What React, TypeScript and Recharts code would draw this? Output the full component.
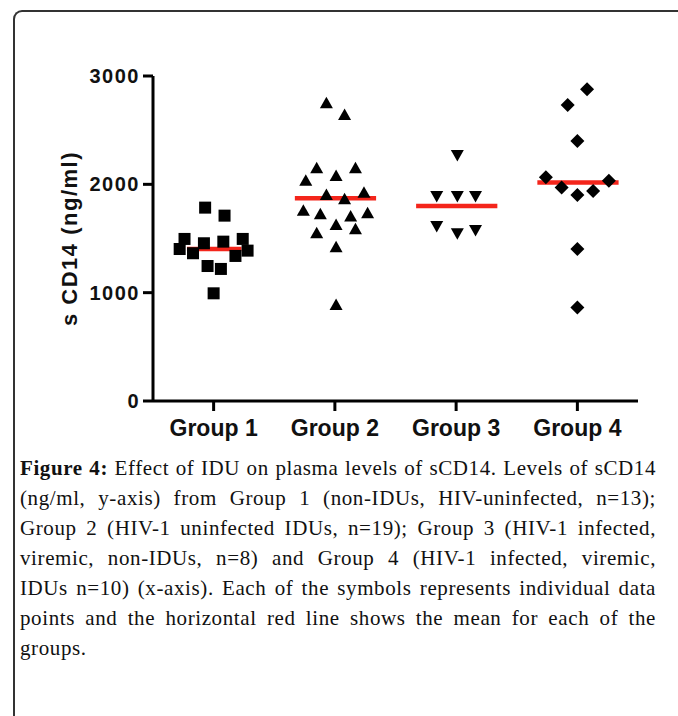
import React from 'react';
import { ScatterChart, Scatter, XAxis, YAxis, ReferenceLine, Label } from 'recharts';

const categories = ['Group 1', 'Group 2', 'Group 3', 'Group 4'];
const categoryTicks = [0.5, 1.5, 2.5, 3.5];
const yTicks = [0, 1000, 2000, 3000];

// x = position along the category axis (group index + jitter), y = sCD14 (ng/ml)
const group1 = [
  { x: 0.43, y: 1785 }, { x: 0.59, y: 1711 }, { x: 0.26, y: 1496 }, { x: 0.22, y: 1403 },
  { x: 0.33, y: 1364 }, { x: 0.42, y: 1456 }, { x: 0.58, y: 1471 }, { x: 0.74, y: 1496 },
  { x: 0.78, y: 1388 }, { x: 0.68, y: 1339 }, { x: 0.45, y: 1246 }, { x: 0.56, y: 1219 },
  { x: 0.5, y: 994 },
];
const group2 = [
  { x: 1.43, y: 2749 }, { x: 1.58, y: 2641 }, { x: 1.35, y: 2149 }, { x: 1.67, y: 2149 },
  { x: 1.26, y: 2034 }, { x: 1.51, y: 2078 }, { x: 1.43, y: 1902 }, { x: 1.58, y: 1862 },
  { x: 1.74, y: 1923 }, { x: 1.24, y: 1757 }, { x: 1.38, y: 1724 }, { x: 1.63, y: 1702 },
  { x: 1.77, y: 1733 }, { x: 1.51, y: 1625 }, { x: 1.67, y: 1585 }, { x: 1.35, y: 1548 },
  { x: 1.51, y: 1419 }, { x: 1.51, y: 886 },
];
const group3 = [
  { x: 2.51, y: 2271 }, { x: 2.34, y: 1893 }, { x: 2.51, y: 1893 }, { x: 2.66, y: 1893 },
  { x: 2.34, y: 1616 }, { x: 2.51, y: 1548 }, { x: 2.66, y: 1579 },
];
const group4 = [
  { x: 3.58, y: 2878 }, { x: 3.42, y: 2733 }, { x: 3.5, y: 2401 }, { x: 3.24, y: 2066 },
  { x: 3.76, y: 2034 }, { x: 3.37, y: 1970 }, { x: 3.63, y: 1939 }, { x: 3.5, y: 1902 },
  { x: 3.5, y: 1403 }, { x: 3.5, y: 862 },
];
const meanValues = [1403, 1871, 1800, 2016];
const meanSpans = [[0.28, 0.73], [1.17, 1.84], [2.17, 2.84], [3.17, 3.84]];

const captionLines = [
  'Effect of IDU on plasma levels of sCD14. Levels of sCD14',
  '(ng/ml, y-axis) from Group 1 (non-IDUs, HIV-uninfected, n=13);',
  'Group 2 (HIV-1 uninfected IDUs, n=19); Group 3 (HIV-1 infected,',
  'viremic, non-IDUs, n=8) and Group 4 (HIV-1 infected, viremic,',
  'IDUs n=10) (x-axis). Each of the symbols represents individual data',
  'points and the horizontal red line shows the mean for each of the',
  'groups.',
];

const SANS = 'Liberation Sans, Arial, sans-serif';
const SERIF = 'Liberation Serif, Times New Roman, serif';

const SquareShape = (p: any) => (
  <rect x={p.cx - 6} y={p.cy - 6} width={12} height={12} fill="#000" />
);
const TriUp = (p: any) => (
  <path d={`M${p.cx},${p.cy - 6.5} L${p.cx + 6.5},${p.cy + 5} L${p.cx - 6.5},${p.cy + 5} Z`} fill="#000" />
);
const TriDown = (p: any) => (
  <path d={`M${p.cx - 6.5},${p.cy - 5} L${p.cx + 6.5},${p.cy - 5} L${p.cx},${p.cy + 6.5} Z`} fill="#000" />
);
const DiamondShape = (p: any) => (
  <path d={`M${p.cx},${p.cy - 7} L${p.cx + 7},${p.cy} L${p.cx},${p.cy + 7} L${p.cx - 7},${p.cy} Z`} fill="#000" />
);

const YLabel = (props: any) => {
  const vb = props.viewBox || { x: 0, y: 76, width: 153, height: 325 };
  const cx = 69;
  const cy = vb.y + vb.height / 2;
  return (
    <text
      x={cx}
      y={cy}
      transform={`rotate(-90, ${cx}, ${cy})`}
      textAnchor="middle"
      dominantBaseline="central"
      fontFamily={SANS}
      fontWeight="bold"
      fontSize={22}
      letterSpacing={1.5}
      fill="#111"
    >
      s CD14 (ng/ml)
    </text>
  );
};

export default function App() {
  return (
    <div style={{ position: 'absolute', left: 0, top: 0, width: 678, height: 716, overflow: 'hidden', background: '#fff' }}>
      <div
        style={{
          position: 'absolute', left: 13, top: 10, width: 720, height: 800,
          borderLeft: '2px solid #333', borderTop: '2px solid #333', borderTopLeftRadius: 9,
        }}
      />
      <div style={{ position: 'absolute', left: 0, top: 0 }}>
        <ScatterChart width={678} height={460} margin={{ top: 76, right: 40, bottom: 0, left: 0 }}>
          <XAxis
            type="number"
            dataKey="x"
            domain={[0, 4]}
            ticks={categoryTicks}
            tickFormatter={(v: number) => categories[Math.floor(v)]}
            height={59}
            axisLine={{ stroke: '#000', strokeWidth: 3 }}
            tickLine={{ stroke: '#000', strokeWidth: 3 }}
            tickSize={10}
            tickMargin={9}
            tick={{ fontSize: 23, fontWeight: 'bold', fill: '#111', fontFamily: SANS }}
            allowDataOverflow
          />
          <YAxis
            type="number"
            dataKey="y"
            domain={[0, 3000]}
            ticks={yTicks}
            width={153}
            axisLine={{ stroke: '#000', strokeWidth: 3 }}
            tickLine={{ stroke: '#000', strokeWidth: 3 }}
            tickSize={10}
            tickMargin={3}
            tick={{ fontSize: 20, fontWeight: 'bold', fill: '#111', fontFamily: SANS, letterSpacing: 1.5 }}
          >
            <Label content={<YLabel />} />
          </YAxis>
          {meanValues.map((m, i) => (
            <ReferenceLine
              key={`mean-${i}`}
              segment={[{ x: meanSpans[i][0], y: m }, { x: meanSpans[i][1], y: m }]}
              stroke="#f4251b"
              strokeWidth={4.5}
              ifOverflow="visible"
            />
          ))}
          <Scatter data={group1} shape={SquareShape} isAnimationActive={false} />
          <Scatter data={group2} shape={TriUp} isAnimationActive={false} />
          <Scatter data={group3} shape={TriDown} isAnimationActive={false} />
          <Scatter data={group4} shape={DiamondShape} isAnimationActive={false} />
        </ScatterChart>
      </div>
      {captionLines.map((line, i) => {
        const last = i === captionLines.length - 1;
        return (
          <div
            key={i}
            style={{
              position: 'absolute', left: 20, top: 453 + i * 30, width: 636,
              fontFamily: SERIF, fontSize: 21, lineHeight: '30px', color: '#111',
              letterSpacing: 0.6,
              textAlign: last ? 'left' : 'justify',
              textAlignLast: last ? 'left' : 'justify',
              whiteSpace: 'nowrap',
            }}
          >
            {i === 0 ? (
              <>
                <b>Figure 4:</b> {line}
              </>
            ) : (
              line
            )}
          </div>
        );
      })}
    </div>
  );
}
